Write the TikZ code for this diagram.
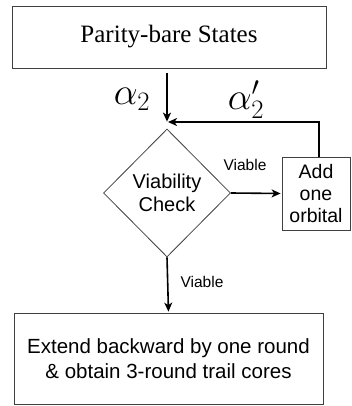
\RequirePackage{fix-cm}
\documentclass[tikz,border=0pt]{standalone}
\usepackage{fontspec}
\setmainfont{Liberation Serif}
\newfontfamily\sansf{Liberation Sans}
\usetikzlibrary{shapes.geometric,arrows.meta}
\tikzset{
  box/.style={draw=black!75, line width=0.8pt, rectangle, inner sep=0pt, align=center},
  arr/.style={line width=1.6pt, -{Stealth[length=9pt,width=8pt,inset=2.5pt]}},
  lbl/.style={font=\sansf\fontsize{15.5}{18}\selectfont, inner sep=0pt},
  mlbl/.style={font=\fontsize{38}{38}\selectfont, inner sep=0pt}
}
\begin{document}
\begin{tikzpicture}[x=1pt,y=-1pt]
\useasboundingbox (0,0) rectangle (352,406);
\node[box, minimum width=314pt, minimum height=62pt, font=\fontsize{25}{28}\selectfont] (top) at (169,37) {Parity-bare States};
\node[draw=black!75, line width=0.8pt, shape=diamond, inner sep=0pt, minimum width=127pt, minimum height=128pt, align=center, font=\sansf\fontsize{20}{23}\selectfont] (dia) at (167,193) {Viability\\Check};
\node[box, minimum width=68pt, minimum height=73pt, font=\sansf\fontsize{19.5}{22}\selectfont] (add) at (316,193.5) {Add\\one\\orbital};
\node[box, minimum width=309pt, minimum height=91pt, font=\sansf\fontsize{20.5}{25}\selectfont] (bot) at (168.5,358.5) {Extend backward by one round\\\& obtain 3-round trail cores};
\coordinate (m) at (168,122);
\coordinate (s) at (167,73);
\coordinate (f) at (319,157);
\draw[arr, shorten >=7pt] (s) -- (dia.north);
\draw[arr] (f) |- (m);
\draw[arr, shorten >=1pt] (dia.east) -- (add.west);
\draw[arr, shorten >=1pt] (dia.south) -- (bot.north);
\node[lbl] (v1) at (245,165) {Viable};
\node[lbl] (v2) at (202,282) {Viable};
\node[mlbl] (a1) at (132,99) {$\alpha_2$};
\node[mlbl] (a2) at (246,100) {$\alpha_2'$};
\end{tikzpicture}
\end{document}
